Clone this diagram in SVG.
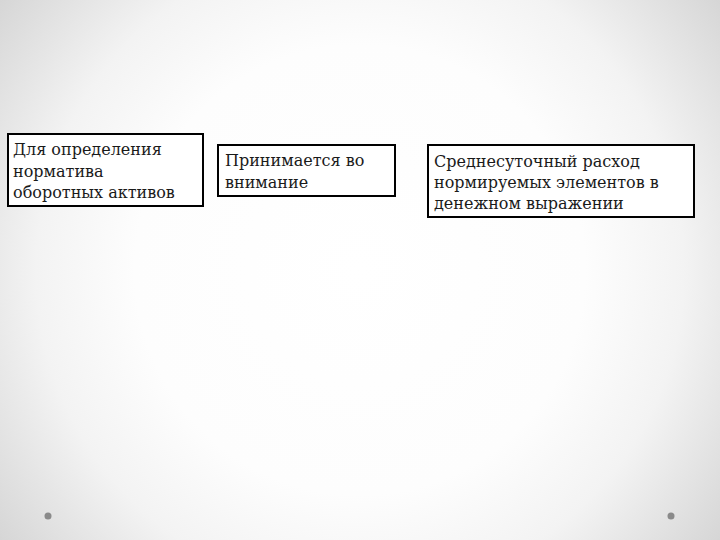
<svg xmlns="http://www.w3.org/2000/svg" width="720" height="540" viewBox="0 0 720 540">
<defs>
<radialGradient id="bg" cx="360" cy="270" r="450" gradientUnits="userSpaceOnUse">
<stop offset="0" stop-color="#ffffff"/>
<stop offset="0.5" stop-color="#fdfdfd"/>
<stop offset="0.72" stop-color="#f3f3f3"/>
<stop offset="1" stop-color="#d6d6d6"/>
</radialGradient>
<style>
.box{fill:#ffffff;stroke:#000000;stroke-width:2}
.t{font-family:"DejaVu Serif","Liberation Serif",serif;font-size:16px;fill:#1a1a1a}
.dot{fill:#8a8a8a}
</style>
</defs>
<rect x="0" y="0" width="720" height="540" fill="url(#bg)"/>
<g id="node1">
<rect class="box" x="8" y="134" width="195" height="72"/>
<text class="t" x="13" y="155">Для определения</text>
<text class="t" x="13" y="177">норматива</text>
<text class="t" x="13" y="198">оборотных активов</text>
</g>
<g id="node2">
<rect class="box" x="218" y="145" width="177" height="51"/>
<text class="t" x="225" y="166">Принимается во</text>
<text class="t" x="225" y="188">внимание</text>
</g>
<g id="node3">
<rect class="box" x="428" y="145" width="266" height="72"/>
<text class="t" x="434" y="167">Среднесуточный расход</text>
<text class="t" x="434" y="188">нормируемых элементов в</text>
<text class="t" x="434" y="209">денежном выражении</text>
</g>
<g id="connectors"></g>
<circle class="dot" cx="48" cy="516" r="3.5"/>
<circle class="dot" cx="671" cy="516" r="3.5"/>
</svg>
